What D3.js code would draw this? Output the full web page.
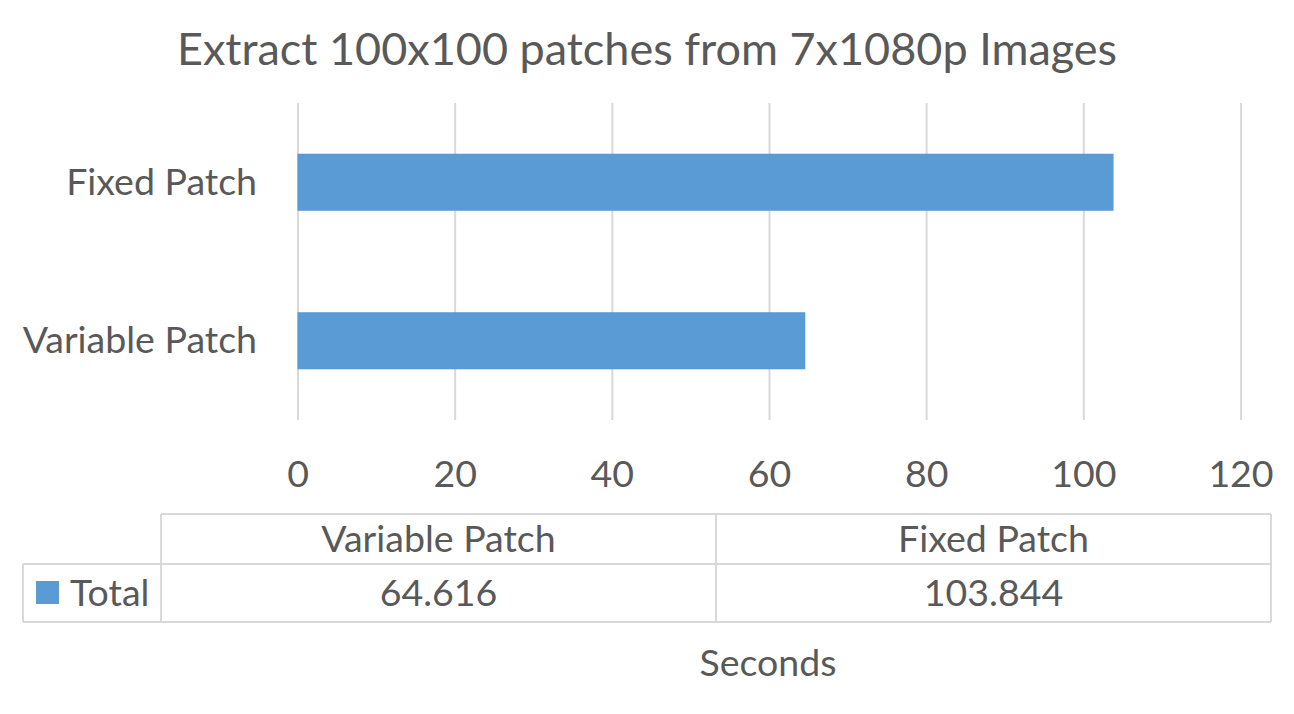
<!DOCTYPE html>
<html><head><meta charset="utf-8">
<script src="https://cdn.jsdelivr.net/npm/d3@7"></script>
<style>body{margin:0;background:#fff}text{font-family:Lato,"Open Sans",sans-serif;fill:#595959}</style>
</head><body>
<svg id="c" width="1294" height="714"></svg>
<script>
const title = "Extract 100x100 patches from 7x1080p Images";
const categories = ["Fixed Patch", "Variable Patch"];
const values = [103.844, 64.616];
const tableOrder = ["Variable Patch", "Fixed Patch"];
const tableValues = ["64.616", "103.844"];
const seriesName = "Total";
const xTicks = [0, 20, 40, 60, 80, 100, 120];
const axisTitle = "Seconds";

const svg = d3.select("#c");
const x = d3.scaleLinear().domain([0, 120]).range([297.5, 1240.5]);
const y = d3.scaleBand().domain(categories).range([103, 420]).paddingInner(0.64).paddingOuter(0.32);
const color = "#5b9bd5", grid = "#d9d9d9";
const fs = 37.5;

svg.append("text").attr("x", 647).attr("y", 65).attr("text-anchor", "middle")
  .attr("font-size", 45).text(title);

const xAxis = svg.append("g").attr("transform", "translate(0,420)")
  .call(d3.axisBottom(x).tickValues(xTicks).tickSize(-317));
xAxis.select(".domain").remove();
xAxis.selectAll("line").attr("stroke", grid).attr("stroke-width", 2);
xAxis.selectAll("text").attr("font-size", fs).attr("fill", "#595959").style("font-family", "Lato")
  .attr("y", 67).attr("dy", 0);

const yAxis = svg.append("g").attr("transform", "translate(297,0)")
  .call(d3.axisLeft(y).tickSize(0).tickPadding(40));
yAxis.select(".domain").remove();
yAxis.selectAll("text").attr("font-size", fs).attr("fill", "#595959").style("font-family", "Lato")
  .attr("dy", "0.33em");

svg.selectAll("rect.bar").data(categories).join("rect").attr("class", "bar")
  .attr("x", x(0)).attr("y", d => y(d))
  .attr("width", (d, i) => x(values[i]) - x(0)).attr("height", y.bandwidth())
  .attr("fill", color);

// data table
const tL = 161, tM = 716, tR = 1271, tLL = 23;
const r0 = 514, r1 = 564, r2 = 622;
const cols = d3.scaleOrdinal().domain(tableOrder).range([[tL, tM], [tM, tR]]);
const tg = svg.append("g").attr("stroke", grid).attr("stroke-width", 2);
tg.append("line").attr("x1", tL).attr("x2", tR).attr("y1", r0).attr("y2", r0);
tg.append("line").attr("x1", tLL).attr("x2", tR).attr("y1", r1).attr("y2", r1);
tg.append("line").attr("x1", tLL).attr("x2", tR).attr("y1", r2).attr("y2", r2);
tg.append("line").attr("x1", tLL).attr("x2", tLL).attr("y1", r1).attr("y2", r2);
[tL, tM, tR].forEach(v => tg.append("line").attr("x1", v).attr("x2", v).attr("y1", r0).attr("y2", r2));

tableOrder.forEach((c, i) => {
  const [a, b] = cols(c);
  svg.append("text").attr("x", (a + b) / 2).attr("y", 552).attr("text-anchor", "middle")
    .attr("font-size", fs).text(c);
  svg.append("text").attr("x", (a + b) / 2).attr("y", 606).attr("text-anchor", "middle")
    .attr("font-size", fs).text(tableValues[i]);
});
svg.append("rect").attr("x", 36).attr("y", 581).attr("width", 23).attr("height", 23).attr("fill", color);
svg.append("text").attr("x", 70).attr("y", 606).attr("font-size", fs).text(seriesName);

svg.append("text").attr("x", 768).attr("y", 676).attr("text-anchor", "middle")
  .attr("font-size", fs).text(axisTitle);
</script>
</body></html>
